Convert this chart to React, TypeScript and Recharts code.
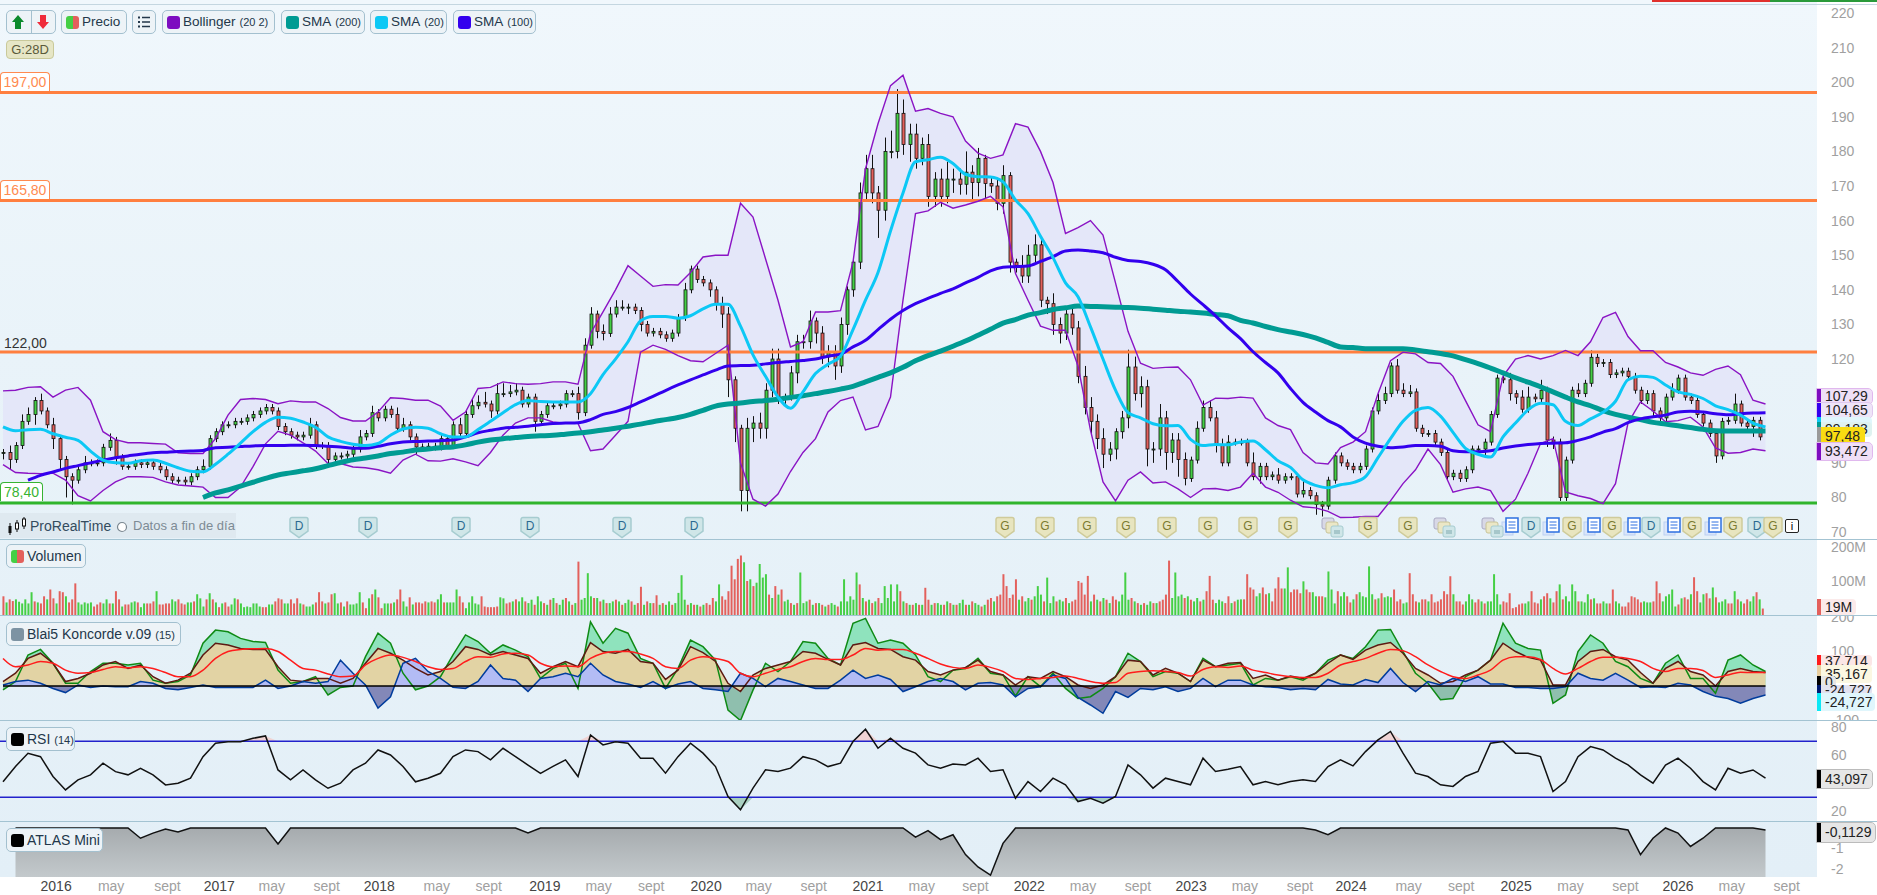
import { ComposedChart, Bar, Line, Area, XAxis, YAxis, ReferenceLine, Cell } from 'recharts';

// one candle every two weeks, rows are about 100px of chart
const candleClose = [
  93, 91, 95, 102, 104, 108, 105, 101, 97, 91, 86, 85, 88, 90, 90, 90,
  94.5, 96.5, 91.5, 89, 89, 90, 89.5, 90, 89, 88, 86, 85, 85, 84.5, 86, 88,
  89, 97, 99, 101, 101, 102, 102, 103, 104, 105, 106, 105, 100.5, 99, 98, 97.5,
  98, 101, 95, 95, 91, 92, 92, 92.5, 94, 97.5, 98.5, 104.5, 103, 105.5, 104, 100,
  101, 97.5, 94.6, 94.6, 94.8, 94.6, 97, 95, 101, 98.5, 104, 106.5, 107.5, 107, 105, 110,
  110, 110.5, 111, 107, 109, 102, 104, 106.5, 106.5, 107, 110, 110, 104.5, 124, 133, 128,
  127.4, 133, 135, 135, 135, 134, 130, 127.5, 128, 127, 126, 127.5, 132, 140, 146, 143,
  142, 140, 136, 133, 114, 100, 82, 100, 101.5, 100, 111, 120, 109, 109, 116, 125,
  125, 131, 127.5, 120.6, 122, 118, 130, 140, 148, 168, 175, 168, 163, 180, 180, 191,
  182, 185, 178, 182, 167, 172, 167, 172, 172, 170.5, 174, 171, 178, 170.7, 170, 165,
  173, 148, 147, 144, 150, 153, 137, 136, 130, 127.5, 133, 129, 115, 106, 102, 97,
  92.5, 94, 99, 103, 117.7, 110, 112, 94, 94, 103, 93, 96.6, 91, 85.5, 90.8, 100,
  106, 103, 95, 90, 96, 96, 96, 90, 86, 89, 86, 86.5, 85, 86, 86, 81,
  82, 80.5, 78, 77.5, 85, 92, 90, 89, 88, 89, 94, 105, 108, 110, 118, 111,
  110, 110.5, 100, 98.5, 98.5, 96, 93, 86, 87, 85.5, 88, 94, 94, 96, 104, 114.5,
  114, 110, 109, 105.5, 109, 108.5, 111, 96.6, 96, 80, 90.8, 111, 110, 113, 120.5, 118.7,
  119, 115.5, 116, 116.5, 115, 111, 108, 110, 105, 103, 109, 111, 114.5, 109, 108, 104,
  101.5, 98.5, 92, 102, 102.3, 107, 101.5, 100.5, 102.3, 97.5,
];
const wickUp = [
  1, 2, 1, 2, 2, 1, 2, 1, 2, 1, 1, 1, 1, 2, 1, 1,
  1, 2, 1, 1, 1, 1, 1, 1, 1, 1, 1, 1, 1, 1, 1, 1,
  2, 1, 1, 1, 1, 1, 1, 1, 1, 1, 1, 1, 1, 1, 1, 1,
  1, 2, 1, 1, 1, 1, 1, 1, 1, 2, 1, 2, 1, 1, 1, 2,
  2, 1, 1, 1, 1, 1, 1, 1, 1, 2, 1, 2, 2, 3, 1, 3,
  3, 2, 2, 1, 1, 1, 1, 1, 1, 1, 1, 1, 2, 2, 2, 1,
  2, 2, 2, 2, 1, 1, 1, 1, 1, 1, 1, 1, 1, 2, 1, 1,
  1, 1, 1, 2, 2, 1, 1, 3, 2, 3, 2, 3, 3, 1, 2, 2,
  2, 3, 1, 2, 2, 2, 2, 1, 1, 3, 4, 4, 2, 4, 6, 7,
  4, 3, 3, 2, 3, 2, 3, 5, 3, 3, 6, 2, 3, 1, 2, 2,
  3, 1, 1, 3, 3, 3, 2, 1, 3, 2, 2, 2, 2, 3, 3, 2,
  3, 2, 1, 2, 5, 3, 3, 2, 2, 4, 2, 2, 2, 2, 1, 2,
  2, 2, 2, 2, 2, 1, 1, 1, 3, 1, 1, 1, 2, 1, 1, 1,
  3, 1, 1, 1, 1, 1, 1, 1, 1, 1, 1, 1, 2, 2, 1, 2,
  2, 2, 1, 1, 1, 1, 1, 1, 1, 1, 1, 1, 1, 1, 1, 1,
  1, 2, 1, 2, 3, 1, 3, 1, 1, 1, 1, 1, 2, 1, 2, 1,
  1, 1, 1, 1, 1, 1, 1, 1, 1, 1, 1, 2, 1, 1, 1, 1,
  1, 1, 1, 1, 1, 3, 1, 1, 1, 1,
];
const wickDown = [
  2, 3, 1, 1, 1, 3, 1, 1, 3, 3, 6, 7, 1, 1, 1, 1,
  1, 1, 2, 1, 1, 1, 1, 1, 1, 1, 1, 1, 1, 1, 1, 1,
  1, 1, 1, 1, 1, 1, 1, 1, 1, 1, 1, 1, 1, 1, 1, 1,
  1, 1, 1, 1, 2, 1, 1, 1, 1, 1, 1, 1, 1, 1, 1, 1,
  1, 1, 2, 1, 1, 1, 1, 1, 1, 1, 1, 1, 1, 1, 2, 1,
  1, 1, 1, 1, 1, 3, 1, 1, 1, 1, 1, 1, 2, 1, 1, 2,
  2, 1, 1, 1, 2, 1, 2, 1, 1, 1, 1, 1, 1, 1, 1, 1,
  1, 2, 2, 4, 5, 4, 6, 6, 4, 3, 3, 2, 2, 2, 1, 3,
  2, 2, 3, 2, 3, 4, 2, 3, 2, 2, 2, 3, 8, 3, 2, 2,
  3, 5, 3, 2, 3, 3, 3, 2, 4, 3, 3, 5, 4, 5, 2, 2,
  3, 3, 2, 2, 2, 2, 2, 3, 3, 3, 2, 2, 2, 2, 4, 3,
  4, 2, 3, 2, 3, 2, 4, 5, 4, 2, 5, 3, 5, 2, 1, 1,
  1, 1, 2, 1, 1, 1, 1, 1, 1, 2, 1, 1, 1, 1, 1, 1,
  1, 1, 3, 3, 1, 1, 1, 1, 1, 1, 1, 1, 1, 1, 1, 1,
  1, 1, 1, 1, 1, 1, 1, 1, 1, 1, 1, 1, 1, 2, 1, 1,
  1, 2, 2, 1, 1, 1, 1, 2, 2, 1, 1, 1, 1, 1, 1, 1,
  1, 1, 1, 1, 1, 1, 1, 1, 2, 1, 1, 1, 1, 1, 1, 1,
  1, 1, 2, 1, 1, 1, 1, 1, 3, 1,
];

// indicators are read every second candle
const bollUpper = [
  110.8, 111, 111.8, 112, 109, 111, 111.8, 108.1,
  99, 96.7, 95.8, 95.8, 95.6, 95.4, 92.9, 92.7,
  92.7, 97, 103.8, 108.3, 108.6, 108.3, 107.1, 107.9,
  107.6, 107.6, 105.7, 103.1, 102.1, 102.1, 104.7, 108.8,
  108.6, 108.1, 108.1, 106.4, 102.3, 104.7, 111.5, 111.8,
  113.4, 112.9, 112.7, 112.9, 113.4, 113.4, 112.7, 127.4,
  133.6, 140, 147, 144, 141, 141.5, 141.4, 145,
  149.5, 150, 150, 165, 161, 149, 137, 123.5,
  125, 133.6, 133.6, 134, 148, 175, 188, 199,
  202, 191.6, 192.4, 191, 190, 183, 179.5, 178,
  179, 188, 187, 180, 171, 156.3, 158, 160,
  155.8, 142, 128, 118.8, 117.3, 117.6, 117.7, 114,
  106.7, 108.7, 108.6, 109, 108.7, 103, 100.8, 99.6,
  93, 90, 89.7, 94.4, 96, 99, 110, 119.5,
  122, 121.5, 119, 118.7, 115, 108, 101, 99,
  115, 120, 121, 120, 121, 122.5, 121, 125,
  132, 133.5, 126.5, 122.4, 122.4, 119, 117.7, 116,
  115.3, 117, 118, 115.5, 108.1, 107,
];
const bollLower = [
  89.5, 87.2, 87, 86.9, 87, 85, 80.5, 79,
  82, 84.5, 86, 86, 85.8, 84.5, 83.6, 83.3,
  83, 80, 80, 83, 88.9, 95.5, 99.1, 98,
  95.8, 93.4, 89.8, 89.8, 88.8, 88.6, 88, 87,
  90.8, 92.5, 90.6, 90.5, 91.2, 90.3, 89.2, 93,
  98, 101.5, 103, 103, 101.8, 101.4, 101.4, 93.5,
  94, 98, 102, 122, 124, 122.8, 121, 119.5,
  119.2, 121.6, 124, 90, 79.5, 77.5, 81, 87.5,
  93, 97, 104.7, 108, 109, 99.5, 100.5, 109,
  137, 162, 162.8, 165.3, 163.6, 164.5, 165.6, 167,
  164, 144.7, 137, 129.5, 128.3, 128.3, 118, 99.4,
  84.5, 79, 85, 87.4, 84.2, 84.5, 82.5, 80,
  82.5, 82.6, 82, 83, 87, 83, 81.5, 79.2,
  77.3, 77, 76, 74.2, 74.3, 74.5, 74.5, 79,
  84, 88, 94, 89.5, 81.5, 82.5, 83, 82,
  76, 79.5, 87, 95.6, 97, 81.6, 80.5, 79.7,
  78.2, 84, 101.5, 107.6, 105, 101.9, 102.2, 103.2,
  100.4, 94.3, 92.8, 93, 94, 93.5,
];
const sma20 = [
  100.4, 99.3, 99.6, 99.7, 98.4, 97.4, 96.5, 93.4,
  90.8, 90, 89.9, 90.6, 90.8, 89.9, 88.6, 87.6,
  87.4, 89.6, 92.5, 95.7, 99, 101.7, 103.2, 102.9,
  101.8, 100.3, 97.5, 96.2, 95.4, 95, 95.6, 98,
  99.8, 100.3, 100, 98.4, 97.5, 97.5, 99.6, 102,
  104.5, 106.8, 108, 107.7, 107.6, 107.6, 107.6, 110,
  115.5, 120, 125, 131, 132.3, 132.3, 131.8, 132.5,
  134.5, 135.8, 135.8, 129.5, 121.2, 115, 109, 105.8,
  110.5, 115.8, 118.5, 120.8, 128.5, 137, 145, 157,
  168, 177, 177.6, 178.3, 176.5, 173.4, 172.7, 172.6,
  171.2, 166, 162, 155.5, 149.3, 142, 138, 129.3,
  120, 111, 104.5, 103, 101.3, 100.7, 100.8, 96.8,
  95, 95.3, 95.2, 96, 96.3, 93.8, 90.6, 88.7,
  85.1, 83.5, 82.8, 83.7, 84.3, 86, 91.5, 97,
  102, 105.2, 106, 103.5, 98.8, 94.2, 92.5, 91.7,
  97.5, 101.5, 105.3, 107.2, 106.8, 102, 100.8, 102.7,
  104.6, 107.8, 114, 115, 114.7, 112.5, 110.5, 109.8,
  108.6, 106.5, 105.4, 103.8, 101.5, 100.4,
];
const sma100 = [
  null, null, 85, 86.4, 87.4, 88.4, 89.2, 90,
  90.8, 91.5, 92, 92.5, 92.9, 93.1, 93.3, 93.4,
  93.6, 94.4, 94.5, 94.7, 94.9, 95, 95, 95.1,
  95.1, 95, 94.8, 94.6, 94.2, 94.2, 94.8, 95.5,
  96, 96.2, 96.3, 96.4, 96.6, 97.5, 98.7, 99.4,
  100, 100.3, 100.6, 101, 101.4, 101.5, 101.6, 102.5,
  104, 104.8, 106, 107.6, 109.2, 110.9, 112.5, 114,
  115.4, 116.8, 118, 118.1, 118.2, 118.6, 119, 119.3,
  119.6, 120, 120.8, 121.4, 123.5, 125.4, 128.5, 131.5,
  134, 136, 137.5, 139, 140.3, 142, 143.6, 145.5,
  146.5, 146.7, 146.9, 148.2, 149.6, 151.2, 151.5, 151.2,
  150.7, 149.4, 148.5, 148.2, 147.4, 145.8, 142.4, 138.8,
  135.7, 132.5, 129, 125.9, 122.1, 119, 116, 111.5,
  107.5, 104.7, 102.2, 100.4, 97.5, 95.7, 94.8, 94.4,
  94.6, 95, 95, 94.8, 93.5, 93.2, 93.2, 93.5,
  94.3, 94.9, 95.3, 95.6, 95.7, 95.8, 96.5, 97.5,
  98.9, 99.9, 101.6, 102.7, 103.3, 103.8, 104.7, 104.9,
  104.7, 104.2, 103.9, 104.2, 104.4, 104.5,
];
const sma200 = [
  null, null, null, null, null, null, null, null,
  null, null, null, null, null, null, null, null,
  80, 81.3, 82.2, 83.3, 84.4, 85.5, 86.5, 87.1,
  87.7, 88.3, 89.2, 90.1, 90.9, 91.4, 92, 92.7,
  93.1, 93.7, 94, 94.4, 94.6, 95.2, 96, 96.6,
  97, 97.3, 97.6, 97.8, 98, 98.3, 98.6, 99,
  99.5, 100, 100.6, 101.2, 101.9, 102.5, 103.1, 104,
  105.2, 106.4, 107, 107.3, 107.7, 108, 108.4, 108.9,
  109.4, 110, 110.6, 111.3, 112.1, 113.4, 114.7, 116,
  117.6, 119.5, 121, 122.3, 123.7, 125.2, 126.9, 128.6,
  130.4, 131.4, 132.7, 133.4, 134.3, 134.8, 135.3, 135.2,
  135.1, 135, 134.9, 134.7, 134.4, 134.1, 133.8, 133.6,
  133.3, 132.9, 132.5, 131.2, 130.4, 129.4, 128.5, 127.8,
  127.1, 126.1, 124.8, 123.5, 123.3, 123, 123, 123,
  123, 122.6, 122.1, 121.6, 120.9, 119.8, 118.7, 117.4,
  116, 114.6, 113.3, 112, 110.5, 109, 107.6, 106.5,
  105.1, 104, 103.2, 102.5, 101.7, 101.2, 100.7, 100.2,
  99.7, 99.3, 99.2, 99.2, 99.2, 99.2,
];

// weekly volume in millions, negative means a down week
const volumes = [
  -55, 37, -46, -41, 46, 39, 34, 46, 34, 67, -40, 37, -34, -55, 46, -75, -49, 34, -70, -67, 55, -37, -46, -93, 37, 31, 37, 34, 37, -25, -31, -37,
  34, 46, -34, 34, -70, -46, 25, -31, -31, 37, 40, -37, 23, 34, -34, -34, -40, 70, -31, -31, -34, -34, 46, 40, -46, -34, -31, 37, 37, -40, 61, 49,
  25, -46, 64, -46, 37, -23, 34, -37, -25, 31, 49, -46, 34, 23, 25, 23, 34, 34, 25, -23, -23, 31, 31, -40, -49, -46, 34, 34, -46, -34, -49, 34,
  -31, 25, 25, 31, -37, -67, -40, 34, -37, -61, 64, 34, -37, 25, -40, 31, 31, 34, 67, -37, -20, 49, -61, 75, -52, -20, 34, 34, -34, 37, -46, -75,
  40, 25, -52, 31, -37, -37, -34, -40, 37, -40, -37, 46, 61, -37, 37, 37, 37, 75, -55, -37, 20, 37, 55, 34, 31, -55, -25, -23, -23, -23, -25, 52,
  49, -34, -37, 40, -46, 40, 52,
  -40, 35, 45, -30, 55, 40, -35, 30, -45, 50, -35, 30, 45, -50, 40, -30, 35,
  -157, 45, 50, 123, 55, -50, 50, -40, 45, -35, 35, 40, -45, 40, -30, 35, 45, -40, 30, -35, -83,
  30, -40, 35, -35, -58, 30, -35, 30, 40, -30, 35, 65, 117, 45, -30, 35, -30, 30, -25, 30, -35, -30, -50, 40, 90,
  -55, -45, -70, -145, -105, -165, -175, 155, -100, 105, -85, 95, 150, 110, 120, -60, 50, -85, 60, -75, 40, 45, -35, 30, -35, 125,
  35, 40, -45, 30, -35, 35, -30, 25, -30, 35, 30, -25, 40, 105, 40, 55, 45, 125, -90, 50, -40, 45, -35, 40, -50, 35, 85, 50, 90, 40, 90, -70,
  40, -35, 30, -30, 35, -30, 30, -80, -45, 30, -35, 35, 30, -30, 40, -35, 30, -30, 35, 45, -30, 30, -40, 35, 30, -25, 30, -45, -50, 40, -55, -60,
  -120, -85, -50, -60, -105, 45, -55, 40, 50, -45, 55, 85, 60, -40, 110, 35, 55, -40, 45, 40, -50, 35, -40, -45, -100, -95, -60, -115, 40, -60, 45, -40,
  50, -45, 35, -55, -45, 40, 60, 125, 45, -50, 40, -35, 30, -35, 30, 40, -35, 35, -40, -45, -60, -160, 50, 125, 55, 60, -50, 55, -45, 40, 50, -40,
  45, -70, -115, -45, 35, 45, 40, -35, -55, 35, -40, 45,
  46, -46, -120, -81, -75, 55, 64, -81, -61, 64, -40, -78, -111, -78, 78, 140, -67, -75, -75, -64, 99, -75, -67, 67, 55, -55, -55, 52, 128, 75, 34, -70,
  55, 67, -55, -37, 46, -61, 67, 55, 52, 143, 61, -46, 49, -64, 52, 55, 52, -75, -40, -46, 34, 37, -123, -61, -40, 37, -46, -46, 40, -61, -37, -40,
  -46, -70, -61, -114, 61, -40, -40, -31, 40, 61, 46, -37, -46, 40, -34, 40, 40, 120, 61, 31, -40, -37, -64, -20, -23, -31, -34, 34, 40, -70, -37, -34,
  46, -55, -64, 49, -37, -70, 90, -46, 55, 40, 90, 70, -40, 40, 37, 61, -46, 49, -34, -34, 40, 34, -34, -75, 40, 34, -25, -25, -37, -55, -52, -46,
  -37, 40, 37, 37, -40, -99, -64, 40, 55, 61, 75, 25, -31, 49, -52, -46, 61, -111, -70, 37, 61, -64, -49, 81, -52, 37, 40, 46, -34, -34, 70, -46,
  40, -34, -46, 40, 55, -67, 46, -19,
];

const koncordeGreen = [
  -11, 13, 90, 106, 66, 8, 8, 42, 66, 66, 61, 66, 17, 8, 13, 32,
  124, 162, 157, 138, 129, 126, 46, 8, 13, 27, -26, -4, 0, 85, 153, 124,
  37, -11, 0, 27, 90, 148, 129, 95, 119, 104, 85, 22, 51, 66, -7, 186,
  124, 167, 153, 80, 66, -7, 51, 133, 114, 75, -70, -100, -12, 66, 42, 71,
  129, 124, 80, 61, 182, 196, 124, 133, 124, 90, 27, 13, 46, 51, 80, 37,
  32, -29, 27, -2, 37, -7, -36, -31, -7, 27, 95, 71, 27, 42, 37, 13,
  80, 56, 61, 66, 3, 22, 17, 27, 17, 37, 75, 90, 80, 114, 162, 164,
  100, 37, 8, -40, -36, 27, 46, 75, 182, 124, 109, 104, -50, -26, 100, 148,
  124, 71, 56, 22, 8, 66, 90, 22, 22, -21, 75, 90, 61, 42,
];
const koncordeBrown = [
  13, 37, 80, 95, 66, 13, 22, 37, 61, 71, 51, 61, 27, 8, 17, 37,
  90, 124, 119, 109, 106, 106, 56, 17, 13, 22, 22, 8, 22, 66, 109, 95,
  75, 51, 32, 42, 71, 114, 106, 90, 100, 90, 80, 37, 56, 71, 56, 126,
  100, 95, 106, 71, 66, 19, 46, 114, 97, 71, 8, -16, 32, 51, 61, 71,
  100, 95, 77, 61, 119, 126, 109, 106, 85, 75, 42, 32, 46, 54, 75, 42,
  32, 3, 27, 22, 42, 27, 3, -7, 3, 27, 75, 71, 32, 51, 37, 13,
  75, 56, 66, 68, 22, 32, 17, 29, 22, 37, 66, 90, 77, 104, 119, 126,
  95, 51, 32, 8, 13, 32, 46, 75, 124, 100, 83, 75, 3, 3, 71, 100,
  106, 85, 75, 39, 8, 51, 71, 42, 32, 0, 42, 51, 42, 39,
];
const koncordeBlue = [
  3, 13, 17, 8, -7, -19, 3, -4, 0, -2, -2, 13, 8, -7, -11, -4,
  3, -4, -4, -4, -4, 17, -7, 0, 13, 8, 13, 75, 37, 3, -64, -31,
  66, 80, 42, 22, -4, -7, 13, 61, 22, 17, -16, 22, 27, 37, 27, 66,
  32, 13, 6, -4, 13, -7, 6, 13, -7, -11, -16, 37, 22, -2, 22, 13,
  3, -7, -7, 17, 46, 22, 32, 19, -16, -2, 13, 22, 13, -11, 8, 10,
  3, -31, -7, -2, 32, 22, -33, -55, -79, -16, -33, -7, -11, -2, -16, -7,
  22, -2, 17, 17, 3, -2, -4, -11, -7, -11, 19, 6, 3, 19, 10, 51,
  10, -16, 13, 3, 22, 13, 27, 6, 6, -4, -4, -7, -7, -2, 37, 22,
  17, 37, 17, -4, -2, -4, 8, 3, -16, -30, -36, -50, -36, -26,
];
const koncordeSignal = [
  80, 56, 61, 71, 66, 46, 37, 39, 48, 56, 53, 56, 51, 39, 27, 27,
  46, 80, 100, 106, 108, 109, 100, 75, 51, 46, 35, 27, 29, 61, 80, 90,
  83, 71, 56, 48, 51, 71, 85, 83, 93, 95, 90, 66, 56, 58, 56, 80,
  95, 100, 100, 93, 80, 56, 51, 75, 85, 80, 71, 37, 27, 37, 48, 56,
  71, 80, 77, 77, 90, 109, 104, 106, 106, 95, 80, 64, 54, 51, 61, 54,
  42, 22, 19, 22, 25, 29, 22, 13, 8, 10, 37, 42, 44, 42, 39, 29,
  48, 56, 54, 58, 46, 39, 32, 27, 25, 25, 37, 61, 71, 80, 95, 106,
  102, 85, 61, 42, 27, 22, 32, 46, 75, 85, 85, 77, 51, 35, 51, 71,
  83, 83, 80, 71, 51, 42, 51, 51, 45, 25, 32, 40, 39, 39,
];

const rsiValues = [
  41, 52, 61.4, 59, 44.8, 35.2, 42.4, 46, 54.3, 48.3, 46, 50.7, 46, 38.8, 40, 43.6,
  59, 68.6, 69.7, 69.7, 72.1, 73.8, 49.5, 42.4, 49.5, 42.4, 36.4, 40, 49.5, 54.3, 63.8, 60.2,
  52, 41, 43.6, 47.1, 59, 63.8, 62.6, 56.7, 65, 59, 53, 47.1, 52, 56.7, 44.8, 74.5,
  67.4, 69.7, 68.6, 57.9, 57.9, 47.2, 59, 68.6, 61.5, 51.9, 30.5, 21, 36.5, 49.6,
  48.4, 50.8, 59, 56.7, 51.9, 54.3, 69.8, 78.6, 65, 72.2, 65, 61.5, 53.1, 50.8, 53.8, 53.1,
  57.9, 48.4, 49.6, 29.3, 41.2, 34.1, 43.6, 38.9, 26.9, 29.3, 25.8, 30.5, 53.1, 46, 36.5, 43.6,
  41.2, 38.9, 57.9, 48.4, 50, 51.9, 38.9, 41.2, 38.9, 41.2, 42.4, 41.2, 51.9, 56.7, 52.4, 62.6,
  71, 77, 61.5, 47.2, 44.8, 38.9, 37.7, 44.8, 48.4, 68.6, 69.8, 61.5, 61.5, 59, 34.1, 41.2,
  59, 66.2, 63.8, 57.9, 53.1, 46, 40, 53, 57.9, 50.7, 41.2, 35.2, 50.7, 47.1, 49.5, 43.6,
];

const atlasValues = [
  null, 0, 0, 0, 0, 0, 0, 0, 0, 0, 0, -0.5, -0.25, -0.05, -0.2, 0,
  0, 0, 0, 0, 0, 0, -0.78, 0, 0, 0, 0, 0, 0, 0, 0, 0,
  0, 0, 0, 0, 0, 0, 0, 0, 0, 0, -0.24, 0, 0, 0, 0, 0,
  0, 0, 0, 0, 0, 0, 0, 0, 0, 0, 0, 0, 0, 0, 0, 0,
  0, 0, 0, 0, 0, 0, 0, 0, 0, -0.45, -0.13, -0.57, -0.33, -1.3, -1.9, -2.3,
  -0.75, 0, 0, 0, 0, 0, 0, 0, 0, 0, 0, 0, 0, 0, 0, 0,
  0, 0, 0, 0, 0, 0, 0, 0, 0, -0.1, -0.33, 0, 0, 0, 0, 0,
  0, 0, 0, 0, 0, 0, 0, 0, 0, 0, 0, 0, 0, 0, 0, 0,
  0, 0, -0.1, -1.3, -0.5, 0, -0.25, -0.9, -0.5, 0, 0, 0, 0, -0.1,
];

const priceTicks = [70, 80, 90, 100, 110, 120, 130, 140, 150, 160, 170, 180, 190, 200, 210, 220];
const volumeTicks = [100, 200];
const koncordeTicks = [-100, 100, 200];
const rsiTicks = [20, 60, 80];
const atlasTicks = [-2, -1];
const timeTicks = [
  8.5, 17.3, 26.3, 34.6, 43, 51.8, 60.2, 69.4, 77.7, 86.7, 95.3, 103.7, 112.5, 120.9, 129.7, 138.4, 147,
  155.6, 164.2, 172.8, 181.6, 190.1, 198.7, 207.5, 215.7, 224.9, 233.3, 242.1, 250.8, 259.6, 268, 276.6, 285.4,
];
const timeLabels = [
  '2016', 'may', 'sept', '2017', 'may', 'sept', '2018', 'may', 'sept', '2019', 'may', 'sept', '2020', 'may', 'sept',
  '2021', 'may', 'sept', '2022', 'may', 'sept', '2023', 'may', 'sept', '2024', 'may', 'sept', '2025', 'may', 'sept',
  '2026', 'may', 'sept',
];

const candleRows = candleClose.map((c, i) => {
  const o = i > 0 ? candleClose[i - 1] : c;
  return { x: i, o, c, h: Math.max(o, c) + wickUp[i], l: Math.min(o, c) - wickDown[i] };
});
const asRows = (values: (number | null)[]) =>
  values.map((v, k) => ({ x: k * 2, v })).filter((r) => r.v !== null);
const bandRows = bollUpper.map((u, k) => ({ x: k * 2, band: [bollLower[k], u] }));
const volumeRows = volumes.map((v, j) => ({ x: j / 2, v: Math.abs(v), down: v < 0 }));
const koncordeRows = koncordeGreen.map((g, k) => ({
  x: k * 2,
  green: g,
  brown: koncordeBrown[k],
  blue: koncordeBlue[k],
  signal: koncordeSignal[k],
  zero: 0,
}));
const rsiRows = rsiValues.map((v, k) => ({
  x: k * 2,
  v,
  over: [70, Math.max(70, v)],
  under: [Math.min(30, v), 30],
}));

const W = 1877;
const xDomain: [number, number] = [-0.48, 290.24];
const zero = { top: 0, right: 0, bottom: 0, left: 0 };
const axisTick = { fontSize: 14, fill: '#a0a0a0', fontFamily: 'Liberation Sans' };
const UP = '#45cf45';
const DOWN = '#e3605c';

function Candle(props: any) {
  const { x, y, width, height, payload } = props;
  const { o, c, h, l } = payload;
  const ppu = height / (h - l);
  const top = y + (h - Math.max(o, c)) * ppu;
  const bodyH = Math.max(1, Math.abs(o - c) * ppu);
  const cx = Math.round(x + width / 2) + 0.5;
  return (
    <g>
      <line x1={cx} x2={cx} y1={y} y2={y + height} stroke="#111" strokeWidth={1} />
      <rect x={cx - 1.5} y={top} width={3} height={bodyH} fill={c >= o ? UP : DOWN} stroke="#111" strokeWidth={0.8} />
    </g>
  );
}

function PricePanel() {
  return (
    <ComposedChart width={W} height={534} data={candleRows} margin={zero}>
      <XAxis dataKey="x" type="number" domain={xDomain} hide allowDataOverflow />
      <YAxis orientation="right" width={60} domain={[68, 222.3]} ticks={priceTicks} interval={0} tick={axisTick} tickLine={false} axisLine={false} tickMargin={8} allowDataOverflow />
      <Area data={bandRows} dataKey="band" type="linear" fill="#e4e7f9" fillOpacity={1} stroke="none" isAnimationActive={false} />
      <ReferenceLine y={197} stroke="#ff7f3f" strokeWidth={3} />
      <ReferenceLine y={165.8} stroke="#ff7f3f" strokeWidth={3} />
      <ReferenceLine y={122} stroke="#ff7f3f" strokeWidth={3} />
      <ReferenceLine y={78.4} stroke="#30b52c" strokeWidth={3} />
      <Bar dataKey={(d: any) => [d.l, d.h]} barSize={3} shape={Candle} isAnimationActive={false} />
      <Line data={asRows(bollUpper)} dataKey="v" type="linear" stroke="#8a14c4" strokeWidth={1.4} dot={false} isAnimationActive={false} />
      <Line data={asRows(bollLower)} dataKey="v" type="linear" stroke="#8a14c4" strokeWidth={1.4} dot={false} isAnimationActive={false} />
      <Line data={asRows(sma200)} dataKey="v" type="monotone" stroke="#009b93" strokeWidth={5} dot={false} isAnimationActive={false} />
      <Line data={asRows(sma100)} dataKey="v" type="monotone" stroke="#3300ee" strokeWidth={3} dot={false} isAnimationActive={false} />
      <Line data={asRows(sma20)} dataKey="v" type="monotone" stroke="#0cc8f5" strokeWidth={3} dot={false} isAnimationActive={false} />
    </ComposedChart>
  );
}

function VolumePanel() {
  return (
    <ComposedChart width={W} height={76} data={volumeRows} margin={zero}>
      <XAxis dataKey="x" type="number" domain={xDomain} hide />
      <YAxis orientation="right" width={60} domain={[0, 223.5]} ticks={volumeTicks} interval={0} tick={axisTick} tickFormatter={(v) => `${v}M`} tickLine={false} axisLine={false} tickMargin={8} />
      <Bar dataKey="v" barSize={2} isAnimationActive={false}>
        {volumeRows.map((r, j) => (
          <Cell key={`vol-${j}`} fill={r.down ? DOWN : UP} />
        ))}
      </Bar>
    </ComposedChart>
  );
}

function KoncordePanel() {
  return (
    <ComposedChart width={W} height={105} data={koncordeRows} margin={zero}>
      <defs>
        <linearGradient id="greenFill" gradientUnits="userSpaceOnUse" x1="0" y1="0" x2="0" y2="105">
          <stop offset="0.676" stopColor="#8fe3bd" />
          <stop offset="0.676" stopColor="#8fbfae" />
        </linearGradient>
        <linearGradient id="blueFill" gradientUnits="userSpaceOnUse" x1="0" y1="0" x2="0" y2="105">
          <stop offset="0.676" stopColor="#b3bcf5" />
          <stop offset="0.676" stopColor="#8388b8" />
        </linearGradient>
      </defs>
      <XAxis dataKey="x" type="number" domain={xDomain} hide />
      <YAxis orientation="right" width={60} domain={[-98.5, 205.8]} ticks={koncordeTicks} interval={0} tick={axisTick} tickLine={false} axisLine={false} tickMargin={8} allowDataOverflow />
      <Area dataKey="green" baseValue={0} type="linear" fill="url(#greenFill)" fillOpacity={1} stroke="none" isAnimationActive={false} />
      <Area dataKey="brown" baseValue={0} type="linear" fill="#e2d3a4" fillOpacity={1} stroke="none" isAnimationActive={false} />
      <Area dataKey="blue" baseValue={0} type="linear" fill="url(#blueFill)" fillOpacity={1} stroke="none" isAnimationActive={false} />
      <Line dataKey="green" type="linear" stroke="#0e8a14" strokeWidth={1.5} dot={false} isAnimationActive={false} />
      <Line dataKey="brown" type="linear" stroke="#5c1a12" strokeWidth={1.5} dot={false} isAnimationActive={false} />
      <Line dataKey="blue" type="linear" stroke="#003c9c" strokeWidth={1.5} dot={false} isAnimationActive={false} />
      <Line dataKey="signal" type="monotone" stroke="#ff1c1c" strokeWidth={1.5} dot={false} isAnimationActive={false} />
      <Line dataKey="zero" type="linear" stroke="#000" strokeWidth={1.5} dot={false} isAnimationActive={false} />
    </ComposedChart>
  );
}

function RsiPanel() {
  return (
    <ComposedChart width={W} height={101} data={rsiRows} margin={zero}>
      <XAxis dataKey="x" type="number" domain={xDomain} hide />
      <YAxis orientation="right" width={60} domain={[13, 85.2]} ticks={rsiTicks} interval={0} tick={axisTick} tickLine={false} axisLine={false} tickMargin={8} />
      <ReferenceLine y={70} stroke="#2222cc" strokeWidth={1.5} />
      <ReferenceLine y={30} stroke="#2222cc" strokeWidth={1.5} />
      <Area dataKey="over" type="linear" fill="#f0d4d4" fillOpacity={1} stroke="none" isAnimationActive={false} />
      <Area dataKey="under" type="linear" fill="#a9cfc0" fillOpacity={1} stroke="none" isAnimationActive={false} />
      <Line dataKey="v" type="linear" stroke="#111" strokeWidth={1.5} dot={false} isAnimationActive={false} />
    </ComposedChart>
  );
}

function AtlasPanel() {
  return (
    <ComposedChart width={W} height={74} data={asRows(atlasValues)} margin={zero}>
      <defs>
        <linearGradient id="atlasFill" x1="0" y1="0" x2="0" y2="1">
          <stop offset="0" stopColor="#a6abae" />
          <stop offset="1" stopColor="#c3c9cc" />
        </linearGradient>
      </defs>
      <XAxis
        dataKey="x"
        type="number"
        domain={xDomain}
        ticks={timeTicks}
        interval={0}
        height={18}
        tickLine={false}
        axisLine={false}
        tickMargin={1}
        tick={(p: any) => {
          const label = timeLabels[timeTicks.indexOf(p.payload.value)];
          const isYear = label.length === 4 && label !== 'sept';
          return (
            <text x={p.x} y={p.y + 7} textAnchor="middle" fontSize={14} fontFamily="Liberation Sans" fill={isYear ? '#444' : '#a0a0a0'}>
              {label}
            </text>
          );
        }}
      />
      <YAxis orientation="right" width={60} domain={[-2.39, 0.34]} ticks={atlasTicks} interval={0} tick={axisTick} tickLine={false} axisLine={false} tickMargin={8} />
      <Area dataKey="v" baseValue={-2.39} type="linear" fill="url(#atlasFill)" fillOpacity={1} stroke="#111" strokeWidth={1.5} isAnimationActive={false} />
    </ComposedChart>
  );
}

const sans = 'Liberation Sans, Arial, sans-serif';

function Chip({ x, w, swatch, label, sub }: { x: number; w: number; swatch?: string; label?: string; sub?: string }) {
  return (
    <div style={{ position: 'absolute', left: x, top: 10, width: w, height: 24, boxSizing: 'border-box', background: '#edf3f7', border: '1px solid #a3c0cf', borderRadius: 5, fontFamily: sans, fontSize: 13.5, color: '#23374a', lineHeight: '22px', whiteSpace: 'nowrap' }}>
      {swatch && <span style={{ position: 'absolute', left: 4, top: 5, width: 13, height: 13, borderRadius: 3, background: swatch }} />}
      {label && <span style={{ position: 'absolute', left: 20 }}>{label}{sub && <span style={{ fontSize: 11, marginLeft: 4 }}>{sub}</span>}</span>}
    </div>
  );
}

function PanelChip({ x, y, w, swatch, label, sub }: { x: number; y: number; w: number; swatch: string; label: string; sub?: string }) {
  return (
    <div style={{ position: 'absolute', left: x, top: y, width: w, height: 24, boxSizing: 'border-box', background: '#edf3f7', border: '1px solid #a3c0cf', borderRadius: 5, fontFamily: sans, fontSize: 14, color: '#23374a', lineHeight: '22px', whiteSpace: 'nowrap' }}>
      <span style={{ position: 'absolute', left: 4, top: 5, width: 13, height: 13, borderRadius: 3, background: swatch }} />
      <span style={{ position: 'absolute', left: 20 }}>{label}{sub && <span style={{ fontSize: 11, marginLeft: 4 }}>{sub}</span>}</span>
    </div>
  );
}

function LevelTag({ y, text, color }: { y: number; text: string; color: string }) {
  return (
    <div style={{ position: 'absolute', left: 0, top: y, width: text === '78,40' ? 43 : 50, height: 19, boxSizing: 'border-box', background: '#fff', border: `1px solid ${color}`, borderBottom: 'none', borderRadius: '4px 4px 0 0', fontFamily: sans, fontSize: 14, color, textAlign: 'center', lineHeight: '19px' }}>
      {text}
    </div>
  );
}

function Tag({ y, h, w, strip, bg, text, border }: { y: number; h: number; w: number; strip: string; bg: string; text?: string; border?: string }) {
  return (
    <div style={{ position: 'absolute', left: 1817, top: y, width: w, height: h, boxSizing: 'border-box', background: bg, borderLeft: `4px solid ${strip}`, borderRadius: '0 4px 4px 0', outline: border ? `1px solid ${border}` : undefined, fontFamily: sans, fontSize: 14, color: '#222', lineHeight: `${h}px`, paddingLeft: 4, overflow: 'hidden', whiteSpace: 'nowrap' }}>
      {text}
    </div>
  );
}

const badgeD = [299, 368, 461, 530, 622, 694, 1531, 1651, 1757];
const badgeG = [1005, 1045, 1087, 1126, 1167, 1208, 1248, 1288, 1368, 1408, 1572, 1612, 1692, 1733, 1773];
const badgeDoc = [1511, 1552, 1593, 1633, 1673, 1714];
const badgeStack = [1333, 1445, 1493];

function Badge({ x, letter }: { x: number; letter: string }) {
  const isD = letter === 'D';
  return (
    <svg style={{ position: 'absolute', left: x - 10, top: 516 }} width={20} height={23}>
      <path d="M3 1.5 H17 a2 2 0 0 1 2 2 V15 L10 21.5 L1 15 V3.5 a2 2 0 0 1 2 -2 Z" fill={isD ? '#cfe6e8' : '#e8e5bf'} stroke={isD ? '#a6ccd0' : '#cfcb9a'} strokeWidth={1.5} />
      <text x={10} y={14} textAnchor="middle" fontSize={12} fontFamily={sans} fill={isD ? '#2a6a90' : '#7a7a30'}>{letter}</text>
    </svg>
  );
}

function DocIcon({ x }: { x: number }) {
  return (
    <svg style={{ position: 'absolute', left: x - 10, top: 517 }} width={20} height={20}>
      <rect x={1} y={5} width={11} height={13} fill="#dbe6fa" stroke="#bcd0f2" />
      <rect x={5} y={1} width={12} height={14} fill="#fff" stroke="#2c6fe0" strokeWidth={1.5} />
      <path d="M7.5 5 H14.5 M7.5 8 H14.5 M7.5 11 H14.5" stroke="#2c6fe0" strokeWidth={1} />
    </svg>
  );
}

function StackIcon({ x }: { x: number }) {
  return (
    <svg style={{ position: 'absolute', left: x - 12, top: 517 }} width={24} height={22}>
      <rect x={1} y={1} width={12} height={11} rx={2} fill="#d8d8e6" stroke="#aaaac4" />
      <rect x={5} y={5} width={12} height={11} rx={2} fill="#ebe7c6" stroke="#c8c498" />
      <rect x={10} y={9} width={12} height={11} rx={2} fill="#cfe6e8" stroke="#a6ccd0" />
      <path d="M13 14 H19 M13 16 H19" stroke="#7fa8ad" />
    </svg>
  );
}

function Overlays() {
  return (
    <>
      <div style={{ position: 'absolute', left: 6, top: 10, width: 50, height: 24, boxSizing: 'border-box', background: '#edf3f7', border: '1px solid #a3c0cf', borderRadius: 5 }}>
        <svg width={48} height={22}>
          <path d="M11 4 L17 11 H14 V18 H8 V11 H5 Z" fill="#0b8a2c" />
          <line x1={24.5} y1={0} x2={24.5} y2={22} stroke="#a3c0cf" />
          <path d="M36 18 L42 11 H39 V4 H33 V11 H30 Z" fill="#ef2b3a" />
        </svg>
      </div>
      <Chip x={61} w={66} swatch="linear-gradient(90deg,#45cf45 50%,#e3605c 50%)" label="Precio" />
      <Chip x={132} w={24} />
      <svg style={{ position: 'absolute', left: 137, top: 15 }} width={14} height={14}>
        <path d="M5 2.5 H13 M5 7 H13 M5 11.5 H13" stroke="#23374a" strokeWidth={1.5} />
        <path d="M1 2.5 H3 M1 7 H3 M1 11.5 H3" stroke="#23374a" strokeWidth={2} />
      </svg>
      <Chip x={162} w={113} swatch="#7d0dc0" label="Bollinger" sub="(20 2)" />
      <Chip x={281} w={84} swatch="#009b93" label="SMA" sub="(200)" />
      <Chip x={370} w={77} swatch="#0cc8f5" label="SMA" sub="(20)" />
      <Chip x={453} w={83} swatch="#3300ee" label="SMA" sub="(100)" />
      <div style={{ position: 'absolute', left: 6, top: 40, width: 48, height: 19, boxSizing: 'border-box', background: '#e6e6c6', border: '1px solid #c9c99a', borderRadius: 4, fontFamily: sans, fontSize: 13, color: '#5a5a3a', textAlign: 'center', lineHeight: '17px' }}>G:28D</div>

      <LevelTag y={72} text="197,00" color="#ff8a50" />
      <LevelTag y={180} text="165,80" color="#ff8a50" />
      <div style={{ position: 'absolute', left: 4, top: 335, fontFamily: sans, fontSize: 14, color: '#333' }}>122,00</div>
      <LevelTag y={482} text="78,40" color="#37b332" />

      <div style={{ position: 'absolute', left: 0, top: 513, width: 236, height: 25, background: '#dfe9f0' }} />
      <svg style={{ position: 'absolute', left: 6, top: 516 }} width={22} height={20}>
        <path d="M4 7 V19 M11 4 V16 M18 1 V13" stroke="#111" />
        <rect x={2.5} y={10} width={3} height={7} fill="#111" />
        <rect x={9.5} y={7} width={3} height={6} fill="#fff" stroke="#111" />
        <rect x={16.5} y={3} width={3} height={7} fill="#fff" stroke="#111" />
      </svg>
      <div style={{ position: 'absolute', left: 30, top: 518, fontFamily: sans, fontSize: 14, color: '#344c5e' }}>ProRealTime</div>
      <svg style={{ position: 'absolute', left: 116, top: 521 }} width={12} height={12}>
        <circle cx={6} cy={6} r={4.5} fill="#fff" stroke="#7a8790" strokeWidth={1.2} />
      </svg>
      <div style={{ position: 'absolute', left: 133, top: 518, fontFamily: sans, fontSize: 13, color: '#7d8b95' }}>Datos a fin de día</div>

      {badgeD.map((x) => <Badge key={`d-${x}`} x={x} letter="D" />)}
      {badgeG.map((x) => <Badge key={`g-${x}`} x={x} letter="G" />)}
      {badgeDoc.map((x) => <DocIcon key={`doc-${x}`} x={x} />)}
      {badgeStack.map((x) => <StackIcon key={`st-${x}`} x={x} />)}
      <div style={{ position: 'absolute', left: 1785, top: 519, width: 14, height: 14, boxSizing: 'border-box', border: '1px solid #222', borderRadius: 2, background: '#fff', fontFamily: sans, fontSize: 11, textAlign: 'center', lineHeight: '12px' }}>i</div>

      <PanelChip x={6} y={544} w={80} swatch="linear-gradient(90deg,#45cf45 50%,#e3605c 50%)" label="Volumen" />
      <PanelChip x={6} y={622} w={175} swatch="#7d93a3" label="Blai5 Koncorde v.09" sub="(15)" />
      <PanelChip x={6} y={727} w={69} swatch="#000" label="RSI" sub="(14)" />
      <PanelChip x={6} y={828} w={97} swatch="#000" label="ATLAS Mini" />

      <Tag y={389} h={15} w={55} strip="#7d0dc0" bg="#efdff6" text="107,29" border="#e0b8ee" />
      <Tag y={403} h={15} w={55} strip="#3300ee" bg="#eee4f7" text="104,65" border="#e0c8ee" />
      <Tag y={417} h={14} w={55} strip="#0cc8f5" bg="#e0f6fc" />
      <Tag y={422} h={15} w={55} strip="#009b93" bg="#dff2f0" text="99,183" />
      <Tag y={427} h={18} w={48} strip="#9a9a9a" bg="#f9dc12" text="97,48" />
      <Tag y={443} h={17} w={55} strip="#7d0dc0" bg="#efdff6" text="93,472" border="#e0b8ee" />

      <Tag y={599} h={16} w={39} strip="#e3605c" bg="#fbeaea" text="19M" />

      <Tag y={655} h={12} w={55} strip="#ff1c1c" bg="#fbe6e6" text="37,714" />
      <Tag y={665} h={18} w={55} strip="#e9cfa0" bg="#fbf7e2" text="35,167" />
      <Tag y={676} h={12} w={19} strip="#000" bg="#e6e6e6" text="0" />
      <Tag y={685} h={10} w={55} strip="#001a70" bg="#e2e2f0" text="-24,727" />
      <Tag y={693} h={18} w={58} strip="#0ce8f5" bg="#e0f6fc" text="-24,727" />

      <Tag y={770} h={18} w={55} strip="#000" bg="#e6e6e6" text="43,097" border="#bbb" />
      <Tag y={823} h={19} w={58} strip="#000" bg="#e6e6e6" text="-0,1129" border="#bbb" />
    </>
  );
}

export default function App() {
  return (
    <div style={{ position: 'absolute', left: 0, top: 0, width: W, height: 895, overflow: 'hidden', background: '#fff' }}>
      <div style={{ position: 'absolute', left: 0, top: 0, width: 1817, height: 877, background: 'linear-gradient(180deg,#f0f7fc 0%,#e9f3f9 40%,#e3eff7 100%)' }} />
      <div style={{ position: 'absolute', left: 1652, top: 0, width: 118, height: 2, background: '#e0302c' }} />
      <div style={{ position: 'absolute', left: 1770, top: 0, width: 107, height: 2, background: '#2a9a3a' }} />
      <div style={{ position: 'absolute', left: 0, top: 4, width: W, height: 1, background: '#c4d6e0' }} />
      <div style={{ position: 'absolute', left: 0, top: 5 }}><PricePanel /></div>
      <div style={{ position: 'absolute', left: 0, top: 539 }}><VolumePanel /></div>
      <div style={{ position: 'absolute', left: 0, top: 615 }}><KoncordePanel /></div>
      <div style={{ position: 'absolute', left: 0, top: 720 }}><RsiPanel /></div>
      <div style={{ position: 'absolute', left: 0, top: 821 }}><AtlasPanel /></div>
      {[539, 615, 720, 821].map((y) => (
        <div key={y} style={{ position: 'absolute', left: 0, top: y, width: W, height: 1, background: '#a3c3d2' }} />
      ))}
      <Overlays />
    </div>
  );
}
